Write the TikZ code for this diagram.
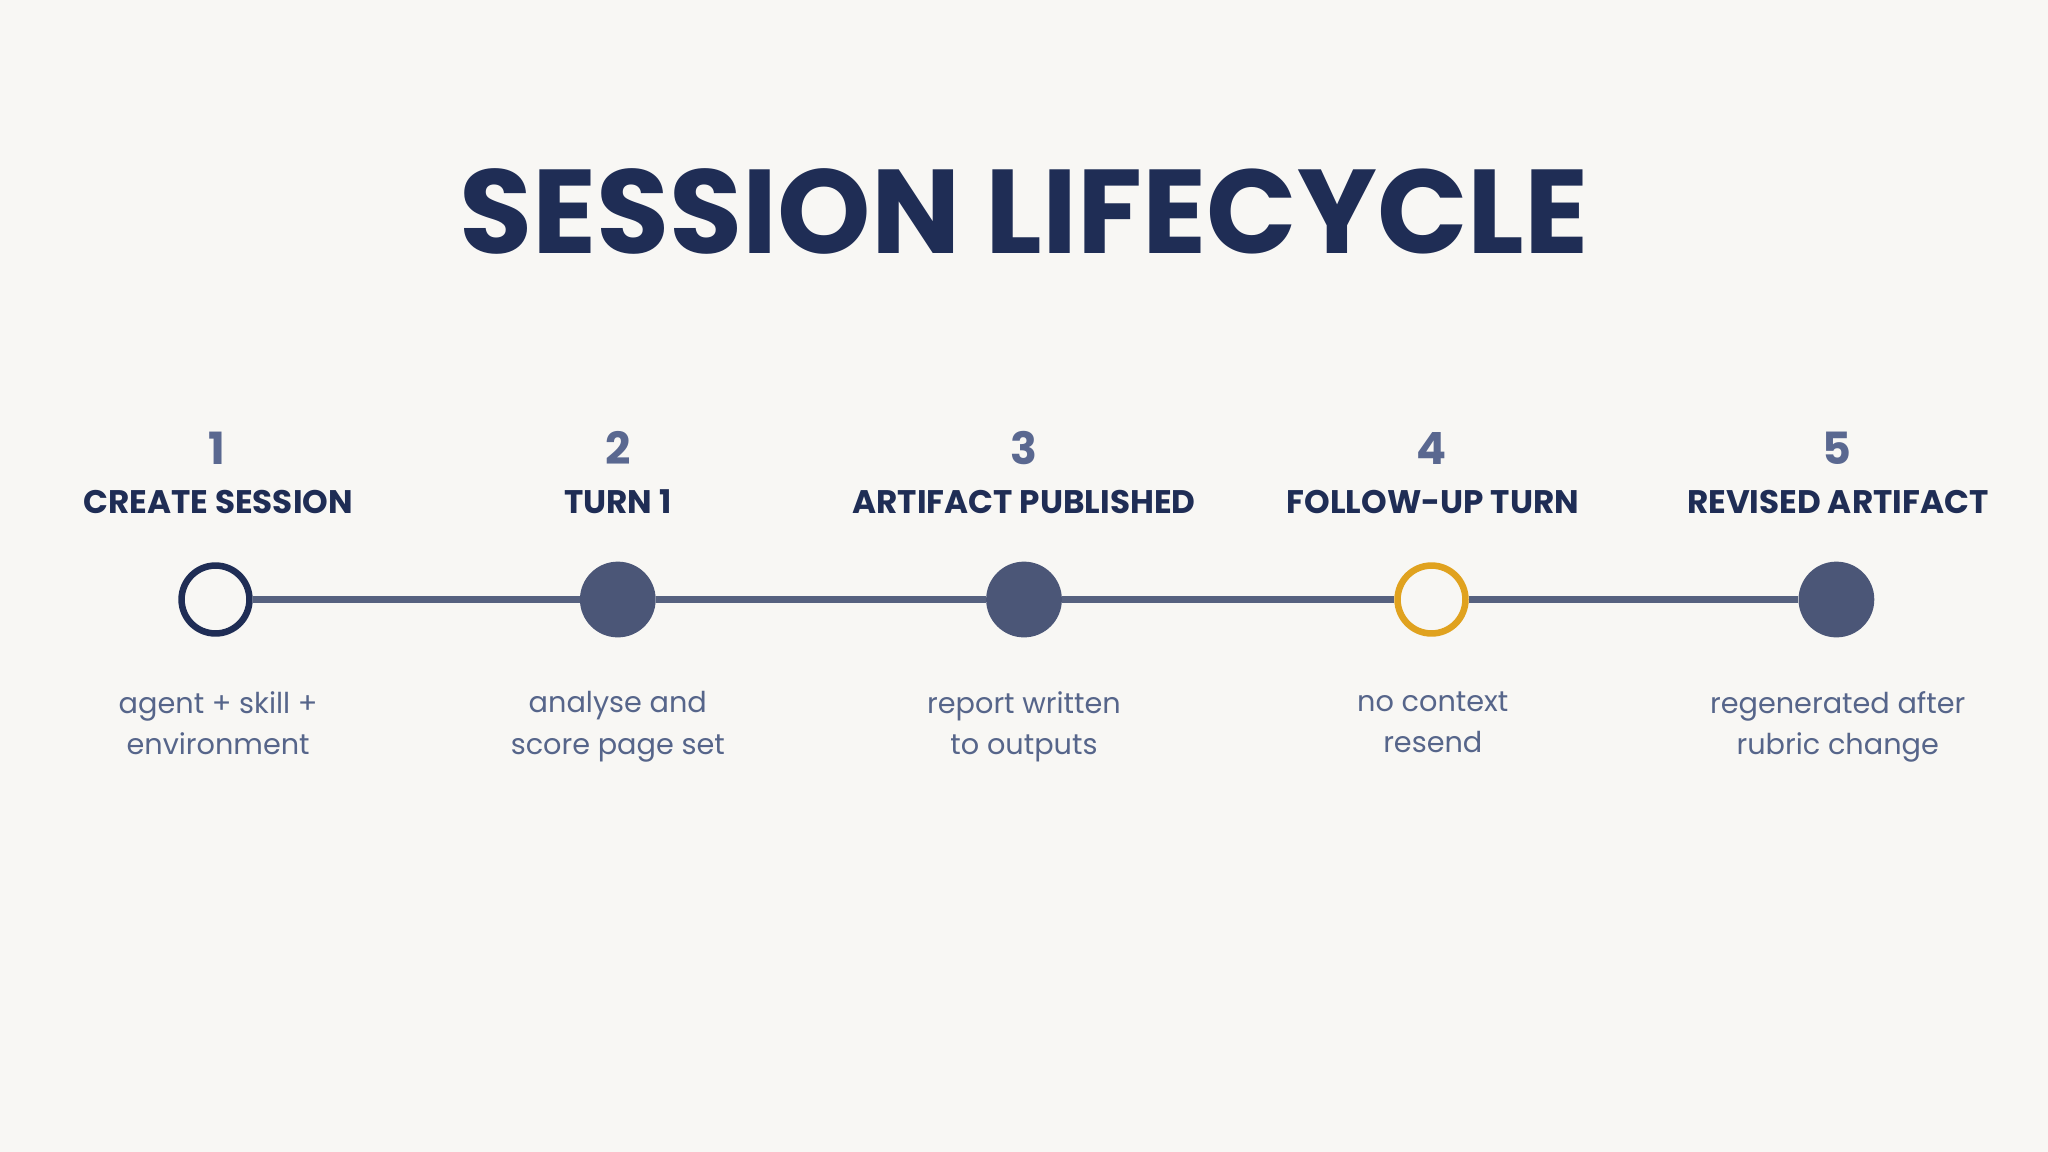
\documentclass[tikz,border=0pt]{standalone}
\usepackage{fontspec}
\usepackage{graphicx}
\setmainfont{Poppins}
\definecolor{bg}{HTML}{F8F7F4}
\definecolor{navy}{HTML}{1F2D55}
\definecolor{numc}{HTML}{5A6890}
\definecolor{dotc}{HTML}{4B5677}
\definecolor{linec}{HTML}{56617F}
\definecolor{descc}{HTML}{56658A}
\definecolor{gold}{HTML}{E0A21F}
\newcommand{\lnph}{\vphantom{Agy}}
\tikzset{
  numlbl/.style={text=numc, font=\fontsize{34}{34}\selectfont\bfseries, anchor=base},
  steplbl/.style={text=navy, font=\fontsize{25}{25}\selectfont\bfseries, anchor=base},
  desclbl/.style={text=descc, font=\fontsize{22}{32}\selectfont, align=center, anchor=north, inner sep=0pt},
  dotfill/.style={circle, minimum size=58pt, inner sep=0pt, fill=dotc},
  dotopen/.style={circle, minimum size=52pt, inner sep=0pt, fill=bg, line width=5pt},
  track/.style={draw=linec, line width=5pt},
}
\begin{document}
\begin{tikzpicture}[x=1pt,y=-1pt]
\fill[bg] (0,0) rectangle (1568,882);
\useasboundingbox (0,0) rectangle (1568,882);
\node[text=navy, anchor=south, inner sep=0pt] (title) at (784,195) {\resizebox{865pt}{65pt}{\fontsize{90}{90}\selectfont\bfseries SESSION LIFECYCLE}};
% circles
\node[dotopen, draw=navy] (c1) at (165,459) {};
\node[dotfill] (c2) at (473,459) {};
\node[dotfill] (c3) at (784,459) {};
\node[dotopen, draw=gold] (c4) at (1096,459) {};
\node[dotfill] (c5) at (1406,459) {};
\draw[track] (c1) -- (c2);
\draw[track] (c2) -- (c3);
\draw[track] (c3) -- (c4);
\draw[track] (c4) -- (c5);
% numbers
\node[numlbl] (n1) at (166,356) {1};
\node[numlbl] (n2) at (473,356) {2};
\node[numlbl] (n3) at (784,356) {3};
\node[numlbl] (n4) at (1096,356) {4};
\node[numlbl] (n5) at (1406,356) {5};
% step titles
\node[steplbl] (s1) at (167,393) {CREATE SESSION};
\node[steplbl] (s2) at (473,393) {TURN 1};
\node[steplbl] (s3) at (784,393) {ARTIFACT PUBLISHED};
\node[steplbl] (s4) at (1097,393) {FOLLOW-UP TURN};
\node[steplbl] (s5) at (1407,393) {REVISED ARTIFACT};
% descriptions
\node[desclbl] (d1) at (167,529) {\lnph agent + skill +\\\lnph environment};
\node[desclbl] (d2) at (473,529) {\lnph analyse and\\\lnph score page set};
\node[desclbl] (d3) at (784,529) {\lnph report written\\\lnph to outputs};
\node[desclbl] (d4) at (1097,529) {\lnph no context\\\lnph resend};
\node[desclbl] (d5) at (1407,529) {\lnph regenerated after\\\lnph rubric change};
\end{tikzpicture}
\end{document}
